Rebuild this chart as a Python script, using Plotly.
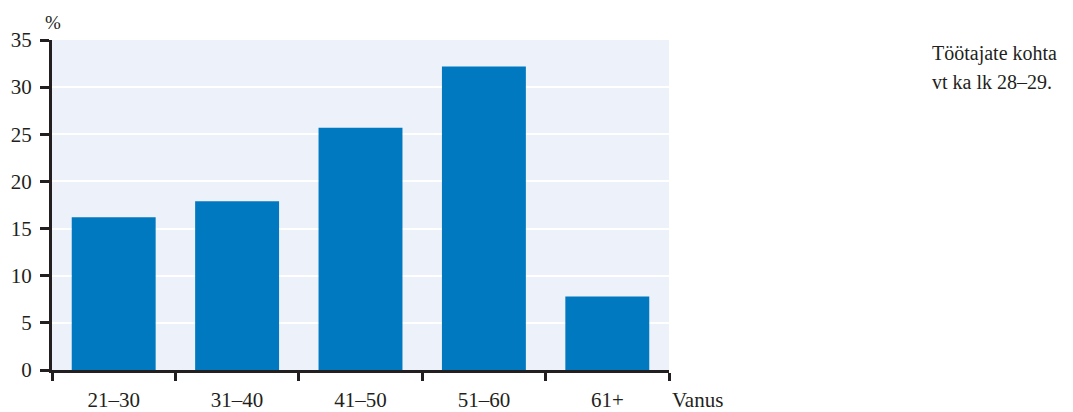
import plotly.graph_objects as go

categories = ["21–30", "31–40", "41–50", "51–60", "61+"]
values = [16.2, 17.9, 25.7, 32.2, 7.8]
y_ticks = [0, 5, 10, 15, 20, 25, 30, 35]

font_family = "Liberation Serif, Times New Roman, serif"
text_color = "#231F20"

fig = go.Figure()
fig.add_trace(go.Bar(x=categories, y=values, marker_color="#0079C1",
                     marker_line_width=0))

# page body has an 8px default margin; size the figure so it fits the window
fig.update_layout(
    width=1065, height=404,
    margin=dict(l=44, r=404, t=32, b=42),
    paper_bgcolor="white",
    plot_bgcolor="#EDF1F9",
    bargap=0.32,
    showlegend=False,
    font=dict(family=font_family, size=21, color=text_color),
    xaxis=dict(
        showline=True, linecolor=text_color, linewidth=3,
        ticks="outside", tickson="boundaries", ticklen=8, tickwidth=3,
        tickcolor=text_color, showgrid=False, ticklabelstandoff=9,
        automargin=False,
    ),
    yaxis=dict(
        range=[0, 35], tickvals=y_ticks, showline=True, linecolor=text_color,
        linewidth=3, ticks="outside", ticklen=9, tickwidth=3,
        tickcolor=text_color, showgrid=True, gridcolor="white", gridwidth=2,
        zeroline=False, ticklabelstandoff=4, automargin=False,
    ),
)

fig.add_annotation(text="%", xref="paper", yref="paper", x=0.0016, y=1.0545,
                   xanchor="center", yanchor="middle",
                   showarrow=False, font=dict(size=19))
fig.add_annotation(text="Vanus", xref="paper", yref="paper", x=1.0016, y=-0.0909,
                   xanchor="left", yanchor="middle",
                   showarrow=False, font=dict(size=21))
fig.add_annotation(text="Töötajate kohta", xref="paper", yref="paper",
                   x=1.423, y=0.9606, xanchor="left", yanchor="middle",
                   showarrow=False, font=dict(size=20))
fig.add_annotation(text="vt ka lk 28–29.", xref="paper", yref="paper",
                   x=1.423, y=0.8727, xanchor="left", yanchor="middle",
                   showarrow=False, font=dict(size=20))

fig.write_html("out.html")
